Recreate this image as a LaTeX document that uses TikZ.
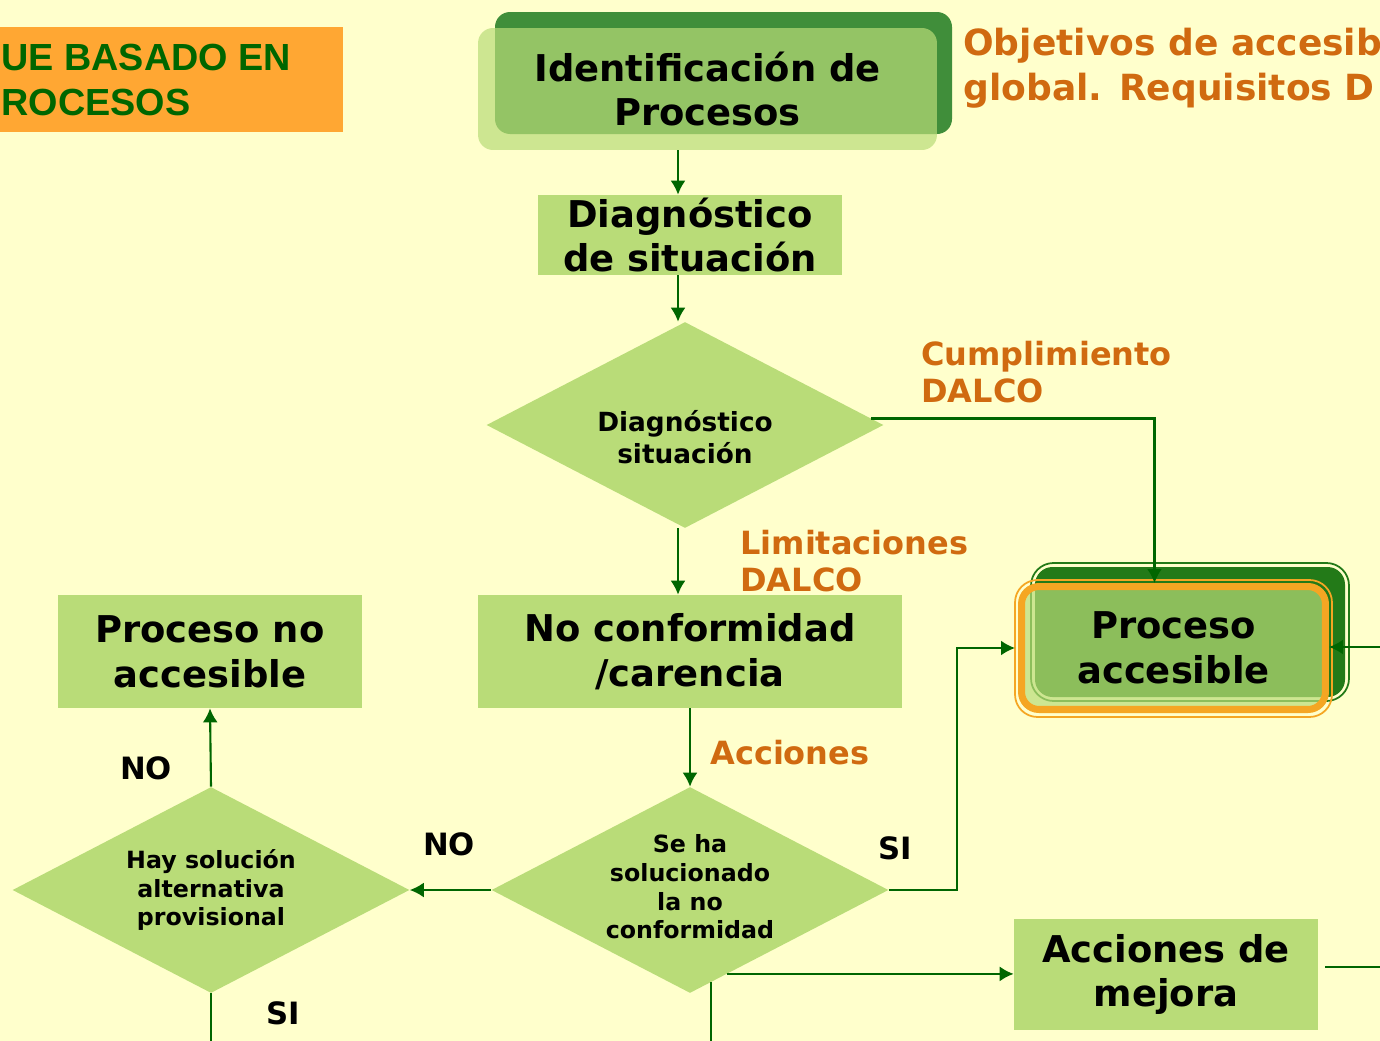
\documentclass[tikz,border=0pt]{standalone}
\usepackage{fontspec}
\setmainfont{DejaVu Sans}
\newfontfamily\titulofont{Liberation Sans}
\usetikzlibrary{shapes.geometric,arrows.meta}
\definecolor{fondo}{HTML}{FFFFCC}
\definecolor{verdeclaro}{HTML}{B9DC78}
\definecolor{verdeosc}{HTML}{408E3A}
\definecolor{verdefuerte}{HTML}{237A18}
\definecolor{linverde}{HTML}{006600}
\definecolor{naranja}{HTML}{FFA733}
\definecolor{textnaranja}{HTML}{D06A10}
\definecolor{bordenaranja}{HTML}{F5A623}
\tikzset{
  caja/.style={fill=verdeclaro,align=center,inner sep=0pt,font=\bfseries\fontsize{21}{25.5}\selectfont},
  rombo/.style={diamond,fill=verdeclaro,aspect=1.93,minimum width=7.94cm,minimum height=4.12cm,inner sep=0pt},
  txtrombo/.style={align=center,inner sep=0pt,font=\bfseries\fontsize{13.5}{16.3}\selectfont},
  flecha/.style={draw=linverde,line width=1.2pt,-{Latex[length=0.28cm,width=0.3cm]}},
  linea/.style={draw=linverde,line width=1.2pt},
  etiq/.style={text=textnaranja,anchor=west,align=left,inner sep=0pt,font=\bfseries\fontsize{18.2}{21.5}\selectfont},
  sino/.style={inner sep=0pt,font=\bfseries\fontsize{17.5}{20}\selectfont}
}
\begin{document}
\begin{tikzpicture}[x=0.02cm,y=-0.02cm]
  \fill[fondo](0,0)rectangle(1380,1041);
  \useasboundingbox(0,0)rectangle(1380,1041);
  \clip(0,0)rectangle(1380,1041);

  % titulo
  \fill[naranja](0,27)rectangle(343,132);
  \node[anchor=west,align=left,inner sep=0pt,text=linverde,font=\titulofont\bfseries\fontsize{21.5}{25.5}\selectfont](titulo)at(1,80){UE BASADO EN\\ROCESOS};
  \node[anchor=west,align=left,inner sep=0pt,text=textnaranja,font=\bfseries\fontsize{20.5}{25.5}\selectfont](objetivos)at(963,68){Objetivos de accesib\\global. Requisitos D};

  % cajas
  \fill[verdeosc,rounded corners=0.3cm](495,12)rectangle(952,134);
  \node[caja,fill opacity=0.7,text opacity=1,rounded corners=0.3cm,minimum width=9.18cm,minimum height=2.44cm](ident)at(707.5,89){Identificación de\\Procesos};
  \node[caja,minimum width=6.1cm,minimum height=1.6cm](diag)at(690,235){Diagnóstico\\de situación};
  \node[caja,minimum width=8.48cm,minimum height=2.26cm](noconf)at(690,651.5){No conformidad\\/carencia};
  \node[caja,minimum width=6.08cm,minimum height=2.26cm](noacc)at(210,651.5){Proceso no\\accesible};
  \node[caja,minimum width=6.08cm,minimum height=2.22cm](mejora)at(1166,974.5){Acciones de\\mejora};

  \draw[verdefuerte,line width=1pt,rounded corners=0.45cm](1031,563)rectangle(1349,701);
  \fill[verdefuerte,rounded corners=0.35cm](1035,567)rectangle(1345,697);
  \draw[bordenaranja,line width=1pt,rounded corners=0.45cm](1015,580)rectangle(1332,717);
  \node[caja,fill opacity=0.7,text opacity=1,draw=bordenaranja,draw opacity=1,line width=4pt,rounded corners=0.35cm,minimum width=6.08cm,minimum height=2.46cm](acc)at(1173.5,648){Proceso\\accesible};

  % rombos
  \node[rombo](dia1)at(685,425){};
  \node[rombo](dia2)at(690,890){};
  \node[rombo](dia3)at(211,890){};
  \node[txtrombo,font=\bfseries\fontsize{15}{18}\selectfont](dia1txt)at([yshift=-0.24cm]dia1.center){Diagnóstico\\situación};
  \node[txtrombo](dia2txt)at([yshift=0.06cm]dia2.center){Se ha\\solucionado\\la no\\conformidad};
  \node[txtrombo](dia3txt)at(dia3.center){Hay solución\\alternativa\\provisional};

  % conectores
  \coordinate(abajo1)at(211,1041);
  \coordinate(abajo2)at(712,1041);
  \coordinate(derecha1)at(1380,647);
  \coordinate(derecha2)at(1380,967);
  \draw[flecha]([xshift=-0.14cm]ident.south-|dia1.north)--([xshift=-0.14cm]diag.north-|dia1.north);
  \draw[flecha]([xshift=-0.14cm]diag.south-|dia1.north)--([xshift=-0.14cm]dia1.north);
  \draw[flecha]([xshift=-0.14cm]dia1.south)--([xshift=-0.14cm]dia1.south|-noconf.north);
  \draw[flecha](dia1.2)-|([xshift=-0.38cm]acc.north);
  \draw[flecha](noconf.south)--(dia2.north);
  \draw[flecha](dia2.east)--++(1.36cm,0)|-([xshift=-0.06cm]acc.west);
  \draw[flecha](dia2.west)--(dia3.east);
  \draw[flecha](dia3.north)--(noacc.south);
  \draw[linea](dia3.south)--(abajo1);
  \draw[flecha](dia2.-66)--(dia2.-66-|mejora.west);
  \draw[linea](dia2.-77)--(dia2.-77|-abajo2);
  \draw[flecha](derecha1)--(derecha1-|acc.east);
  \draw[linea]([xshift=0.14cm]mejora.east|-derecha2)--(derecha2);

  % etiquetas
  \node[etiq](cumple)at(921,372){Cumplimiento\\DALCO};
  \node[etiq](limita)at(740,561){Limitaciones\\DALCO};
  \node[etiq](acciones)at(710,753){Acciones};
  \node[sino](si1)at(895,848){SI};
  \node[sino](no1)at(449,844){NO};
  \node[sino](no2)at(146,768){NO};
  \node[sino](si2)at(283,1013){SI};
\end{tikzpicture}
\end{document}
